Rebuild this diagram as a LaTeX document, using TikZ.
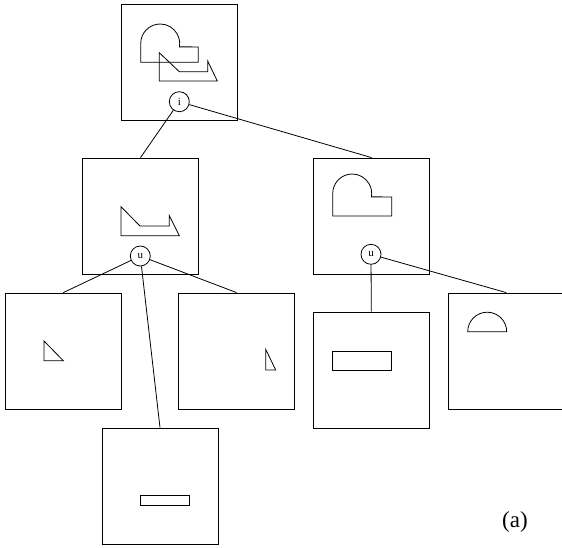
\documentclass[tikz,border=0pt]{standalone}
\usepackage{fontspec}
\setmainfont{Liberation Serif}
\begin{document}
\begin{tikzpicture}[x=1pt,y=-1pt,line width=0.8pt,
  box/.style={draw,rectangle,inner sep=0pt,minimum width=116pt,minimum height=116pt},
  op/.style={draw,circle,inner sep=0pt,minimum size=20pt,font=\fontsize{11}{12}\selectfont},
  shp/.style={line width=0.8pt,line join=miter}]
\clip (0,0) rectangle (562,547);
% boxes
\node[box] (top) at (179,62) {};
\node[box] (ml) at (140.5,216) {};
\node[box] (mr) at (371.6,216) {};
\node[box] (ll) at (63.3,351) {};
\node[box] (lr) at (236.6,351) {};
\node[box] (bm) at (160,486) {};
\node[box] (rl) at (371.3,370) {};
\node[box] (rr) at (506.3,351) {};
% operator circles
\node[op] (i) at (179.3,101.7) {i};
\node[op] (u1) at (140.3,256) {u};
\node[op] (u2) at (371,254.3) {u};
% connectors
\draw (i) -- (ml.north);
\draw (i) -- (mr.north);
\draw (u1) -- (ll.north);
\draw (u1) -- (lr.north);
\draw (u1) -- (bm.north);
\draw (u2) -- (rl.north);
\draw (u2) -- (rr.north);
% shapes in top box
\draw[shp] (140.7,62.3) -- (140.7,43.5) arc[start angle=180,end angle=-10,radius=19.5pt] -- (198.3,46.9) -- (198.3,62.3) -- cycle;
\draw[shp] (159.3,52.7) -- (179.3,71.7) -- (207.7,71.7) -- (207.7,61) -- (217.3,81) -- (159.3,81) -- cycle;
% shape in middle-left box
\draw[shp] (121,206.7) -- (140,226) -- (169.3,226) -- (169.3,215.7) -- (179.3,235.7) -- (121,235.7) -- cycle;
% shape in middle-right box
\draw[shp] (332.7,216) -- (332.7,193.5) arc[start angle=180,end angle=-10,radius=19.5pt] -- (391.7,196.9) -- (391.7,216) -- cycle;
% bottom shapes
\draw[shp] (44,341) -- (44,360.7) -- (63.3,360.7) -- cycle;
\draw[shp] (265.7,349.3) -- (265.7,370) -- (275.7,370) -- cycle;
\draw[shp] (140.3,495.7) rectangle (189,505.3);
\draw[shp] (332.7,351) rectangle (391,370.3);
\draw[shp] (467.7,331.7) arc[start angle=180,end angle=0,radius=19.5pt] -- cycle;
% label
\node[font=\fontsize{23}{25}\selectfont] (lab) at (515,522) {(a)};
\end{tikzpicture}
\end{document}
